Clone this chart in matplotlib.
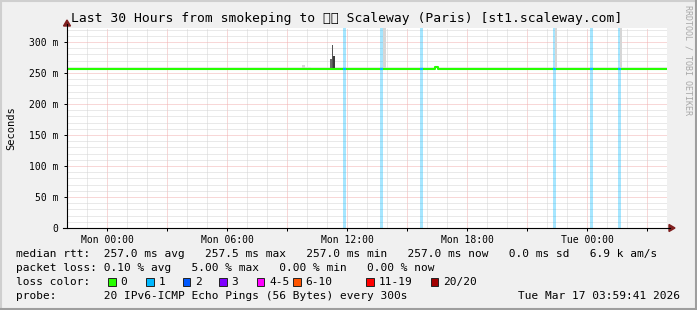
import matplotlib
matplotlib.use("Agg")
import matplotlib.pyplot as plt
import matplotlib.dates as mdates
from matplotlib.lines import Line2D
from matplotlib.patches import Polygon, Rectangle
from matplotlib.ticker import MultipleLocator, FuncFormatter
from datetime import datetime, timedelta

W, H = 697, 310
MONO = "DejaVu Sans Mono"
plt.rcParams['font.family'] = [MONO, 'DejaVu Sans', 'Noto Sans', 'Noto Sans CJK SC']

# time is given in hours relative to Mon 00:00
t0 = datetime(2026, 3, 16, 0, 0)
x_start, x_end = -2.0, 28.0
y_max = 322.5

# median rtt (ms), step values
median_h = [-2.0, 16.4, 16.55, 27.95]
median_ms = [257.0, 259.0, 257.0, 257.0]

# intervals where 1 of 20 pings was lost
loss_start = [11.8, 13.65, 15.65, 22.28, 24.15, 25.55]
loss_end = [11.97, 13.82, 15.78, 22.45, 24.28, 25.72]
loss_ms = [257.0, 257.0, 257.0, 257.0, 257.0, 257.0]

# smoke (ping spread around the median)
smoke_start = [9.73, 9.9, 11.15, 11.25, 11.25, 13.8, 22.4, 25.65]
smoke_end = [9.9, 10.2, 11.25, 11.4, 11.3, 13.93, 22.5, 25.73]
smoke_lo = [257.0, 257.0, 257.0, 257.0, 257.0, 258.0, 258.0, 258.0]
smoke_hi = [263.0, 259.5, 273.0, 277.0, 295.0, 400.0, 400.0, 400.0]
smoke_shade = ['#d8d8d8', '#e2e2e2', '#6a6a6a', '#3a3a3a', '#555555',
               '#d6d6d6', '#d6d6d6', '#d6d6d6']

loss_labels = ['0', '1', '2', '3', '4-5', '6-10', '11-19', '20/20']
loss_colors = ['#26ff00', '#00b8ff', '#0059ff', '#7e00ff', '#ff00ff',
               '#ff5500', '#ff0000', '#a10000']

title = "Last 30 Hours from smokeping to \U0001F1EB\U0001F1F7 Scaleway (Paris) [st1.scaleway.com]"
line_rtt = ("median rtt:  257.0 ms avg   257.5 ms max   257.0 ms min   "
            "257.0 ms now   0.0 ms sd   6.9 k am/s")
line_loss = "packet loss: 0.10 % avg   5.00 % max   0.00 % min   0.00 % now"
line_probe = "probe:       20 IPv6-ICMP Echo Pings (56 Bytes) every 300s"
stamp = "Tue Mar 17 03:59:41 2026"


def at(h):
    return t0 + timedelta(hours=h)


def fx(x):
    return x / W


def fy(y):
    return 1 - y / H


fig = plt.figure(figsize=(W / 100, H / 100), dpi=100, facecolor='#f0f0f0')
ax = fig.add_axes([fx(67), fy(228), 600 / W, 200 / H])
ax.set_facecolor('white')

for s, e in zip(loss_start, loss_end):
    ax.axvspan(at(s), at(e), color=loss_colors[1], alpha=0.35, lw=0, zorder=1)

for s, e, lo, hi, c in zip(smoke_start, smoke_end, smoke_lo, smoke_hi, smoke_shade):
    ax.bar(at(s), hi - lo, bottom=lo, width=timedelta(hours=e - s),
           align='edge', color=c, lw=0, zorder=2)

ax.step([at(h) for h in median_h], median_ms, where='post',
        color=loss_colors[0], lw=1.5, zorder=3)
for s, e, v in zip(loss_start, loss_end, loss_ms):
    ax.plot([at(s), at(e)], [v, v], color=loss_colors[1], lw=1.5,
            solid_capstyle='butt', zorder=4)

ax.set_xlim(at(x_start), at(x_end))
ax.set_ylim(0, y_max)

ax.xaxis.set_major_locator(mdates.HourLocator(byhour=range(0, 24, 3)))
ax.xaxis.set_minor_locator(mdates.HourLocator())


def xfmt(v, pos):
    d = mdates.num2date(v)
    return d.strftime('%a %H:%M') if d.hour % 6 == 0 else ''


ax.xaxis.set_major_formatter(FuncFormatter(xfmt))
ax.yaxis.set_major_locator(MultipleLocator(50))
ax.yaxis.set_minor_locator(MultipleLocator(10))
ax.yaxis.set_major_formatter(FuncFormatter(lambda v, p: '0' if v == 0 else f'{int(v)} m'))

ax.set_axisbelow(True)
ax.grid(which='major', color='#f2b0b0', ls=(0, (1, 1)), lw=0.72)
ax.grid(which='minor', color='#d4d4d4', ls=(0, (1, 1)), lw=0.72)
ax.tick_params(which='major', length=2.5, width=0.72, labelsize=7, pad=2.5)
ax.tick_params(which='minor', length=0)
ax.tick_params(axis='y', pad=3.5)
for sp in ax.spines.values():
    sp.set_visible(False)

# axes with arrows
fig.add_artist(Line2D([fx(67), fx(67)], [fy(228), fy(24)], color='black', lw=0.8))
fig.add_artist(Line2D([fx(63), fx(670)], [fy(228), fy(228)], color='black', lw=0.8))
fig.add_artist(Polygon([[fx(63.5), fy(26)], [fx(70.5), fy(26)], [fx(67), fy(20)]],
                       closed=True, color='#7f1f1f'))
fig.add_artist(Polygon([[fx(669), fy(224.5)], [fx(669), fy(231.5)], [fx(675), fy(228)]],
                       closed=True, color='#7f1f1f'))

fig.text(fx(347), fy(18.5), title, ha='center', va='center', fontsize=9.4)
fig.text(fx(11), fy(128), 'Seconds', rotation=90, ha='center', va='center', fontsize=7.5)
fig.text(fx(688), fy(5), 'RRDTOOL / TOBI OETIKER', rotation=270, ha='center',
         va='top', fontsize=6, color='#a8a8a8')

fig.text(fx(16), fy(254), line_rtt, ha='left', va='center', fontsize=8)
fig.text(fx(16), fy(268), line_loss, ha='left', va='center', fontsize=8)
fig.text(fx(16), fy(282), 'loss color:', ha='left', va='center', fontsize=8)
fig.text(fx(16), fy(296), line_probe, ha='left', va='center', fontsize=8)
fig.text(fx(680), fy(296), stamp, ha='right', va='center', fontsize=8)

sq_x = [108.3, 146, 182.7, 219.3, 256.7, 293.3, 366, 430.7]
for x, lab, c in zip(sq_x, loss_labels, loss_colors):
    fig.add_artist(Rectangle((fx(x), fy(285.5)), 7.5 / W, 7.5 / H,
                             facecolor=c, edgecolor='#222222', lw=0.7))
    fig.text(fx(x + 12.4), fy(282), lab, ha='left', va='center', fontsize=8)

# 3d frame
fig.add_artist(Line2D([0, 1], [fy(1), fy(1)], color='#cfcfcf', lw=1.5))
fig.add_artist(Line2D([fx(1), fx(1)], [0, 1], color='#cfcfcf', lw=1.5))
fig.add_artist(Line2D([0, 1], [fy(H - 1), fy(H - 1)], color='#9e9e9e', lw=1.5))
fig.add_artist(Line2D([fx(W - 1), fx(W - 1)], [0, 1], color='#9e9e9e', lw=1.5))

fig.savefig('out.png', dpi=100, facecolor=fig.get_facecolor())
